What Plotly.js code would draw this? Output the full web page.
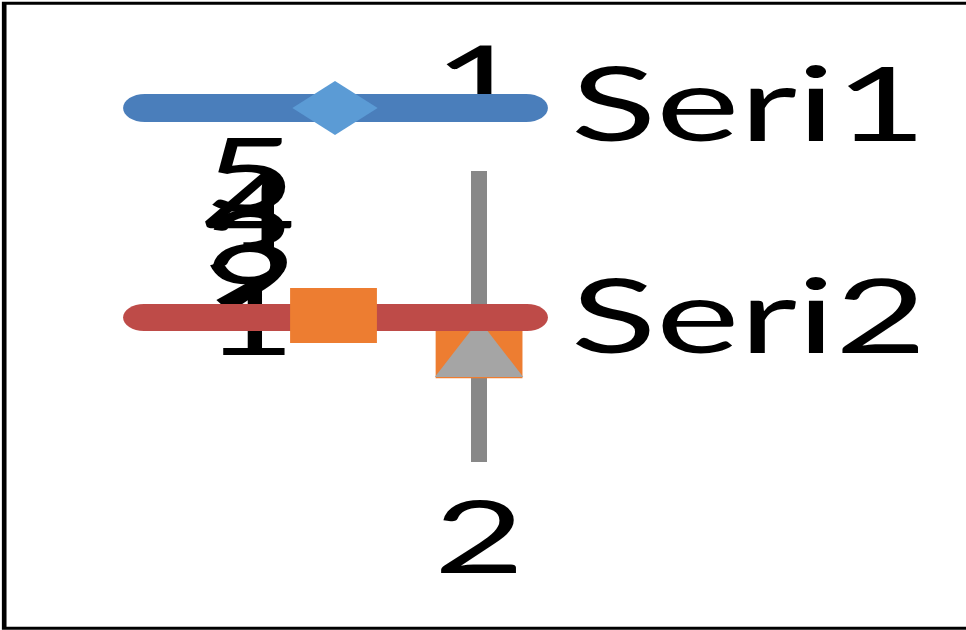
<!DOCTYPE html>
<html>
<head>
<meta charset="utf-8">
<script src="https://cdn.plot.ly/plotly-3.0.1.min.js"></script>
<style>
  html, body { margin: 0; padding: 0; background: #fff; overflow: hidden; }
  /* the chart is drawn narrow and stretched sideways, like the original picture */
  #chart { width: 623px; height: 630px; transform: scaleX(1.5506); transform-origin: 0 0; }
</style>
</head>
<body>
<div id="chart"></div>
<script>
// chart data
const seriesNames = ['Seri1', 'Seri2'];
const categories = ['1', '2'];
const valueTicks = [1, 2, 3, 4, 5];
const seri2Values = [1.92];
const seri3Values = [2.44];

const W = 966, H = 630;            // size of the stretched picture
const FONT = 'Lato, Carlito, sans-serif';
const px = x => x / W;             // picture pixel -> paper
const py = y => 1 - y / H;

// rounded bar used as legend line symbol (pixel path around its anchor)
function legendBar(halfLen, r) {
  const k = 0.5523 * r;
  return 'M' + (-halfLen + r) + ',' + (-r) +
    ' L' + (halfLen - r) + ',' + (-r) +
    ' C' + (halfLen - r + k) + ',' + (-r) + ' ' + halfLen + ',' + (-k) + ' ' + halfLen + ',0' +
    ' C' + halfLen + ',' + k + ' ' + (halfLen - r + k) + ',' + r + ' ' + (halfLen - r) + ',' + r +
    ' L' + (-halfLen + r) + ',' + r +
    ' C' + (-halfLen + r - k) + ',' + r + ' ' + (-halfLen) + ',' + k + ' ' + (-halfLen) + ',0' +
    ' C' + (-halfLen) + ',' + (-k) + ' ' + (-halfLen + r - k) + ',' + (-r) + ' ' + (-halfLen + r) + ',' + (-r) + ' Z';
}

function pixelShape(cx, cy, extra) {
  return Object.assign({
    type: 'path', xref: 'paper', yref: 'paper',
    xsizemode: 'pixel', ysizemode: 'pixel',
    xanchor: px(cx), yanchor: py(cy),
    line: { width: 0 }, layer: 'above'
  }, extra);
}

const traces = [
  {
    x: seri2Values.map(() => 0), y: seri2Values, name: seriesNames[1],
    type: 'scatter', mode: 'markers',
    marker: { symbol: 'square', size: 56, color: '#ED7D31' },
    hoverinfo: 'skip'
  },
  {
    x: seri3Values.map(() => 0), y: seri3Values, name: 'Seri3',
    type: 'scatter', mode: 'markers',
    marker: { symbol: 'arrow-up', size: 57, color: '#A5A5A5' },
    hoverinfo: 'skip'
  },
  {
    // keeps the tick-label axis alive
    x: [], y: [], yaxis: 'y3', type: 'scatter', hoverinfo: 'skip'
  },
  {
    x: categories.map(() => 0), y: categories, yaxis: 'y4',
    type: 'scatter', mode: 'text', text: categories,
    textposition: 'middle center',
    textfont: { family: FONT, size: 101, color: '#000' },
    hoverinfo: 'skip'
  }
];

const layout = {
  width: 623, height: H,
  margin: { l: 0, r: 0, t: 0, b: 0, pad: 0 },
  paper_bgcolor: '#fff', plot_bgcolor: 'rgba(0,0,0,0)',
  showlegend: false,
  font: { family: FONT, color: '#000' },
  xaxis: { domain: [0, 1], range: [-1, 1.0165], visible: false, fixedrange: true },
  yaxis: {
    domain: [py(462), py(171)], range: [0, 5], anchor: 'free', position: px(479),
    showline: true, linecolor: '#888888', linewidth: 10,
    showticklabels: false, ticks: '', showgrid: false, zeroline: false,
    layer: 'below traces', fixedrange: true
  },
  yaxis3: {
    domain: [py(319), py(176)], range: [1, 5], anchor: 'free', position: px(296),
    tickvals: valueTicks, ticktext: valueTicks.map(String),
    tickfont: { family: FONT, size: 103, color: '#000' },
    showline: false, showgrid: false, zeroline: false, ticks: '',
    layer: 'below traces', fixedrange: true
  },
  yaxis4: {
    domain: [0, 1], type: 'category', categoryarray: categories,
    range: [1.181, -0.2048], anchor: 'x', visible: false, fixedrange: true
  },
  shapes: [
    {
      type: 'rect', xref: 'paper', yref: 'paper',
      x0: px(4.2), x1: 1.05, y0: py(628.3), y1: py(3.3),
      line: { color: '#000', width: 3 }, fillcolor: 'rgba(0,0,0,0)', layer: 'above'
    },
    pixelShape(335.5, 108, { path: legendBar(137, 14), fillcolor: '#4A7EBB' }),
    pixelShape(335.5, 317.5, { path: legendBar(137, 13.5), fillcolor: '#BE4B48' }),
    pixelShape(335, 108, { path: 'M-27.5,0 L0,27 L27.5,0 L0,-27 Z', fillcolor: '#5B9BD5' }),
    pixelShape(333.5, 315.5, { path: 'M-28,-27.5 L28,-27.5 L28,27.5 L-28,27.5 Z', fillcolor: '#ED7D31' })
  ],
  annotations: seriesNames.map((name, i) => ({
    text: name, xref: 'paper', yref: 'paper',
    x: px(568), y: py([102, 313][i]), xanchor: 'left', yanchor: 'middle',
    showarrow: false, font: { family: FONT, size: 102, color: '#000' }
  }))
};

Plotly.newPlot('chart', traces, layout, { staticPlot: true, displayModeBar: false });
</script>
</body>
</html>
